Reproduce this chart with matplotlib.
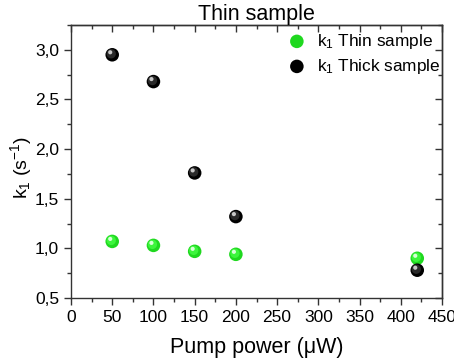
import matplotlib
matplotlib.use("Agg")
import matplotlib.pyplot as plt
from matplotlib.ticker import MultipleLocator, FuncFormatter
from matplotlib.transforms import offset_copy

plt.rcParams['font.family'] = ['Liberation Sans', 'DejaVu Sans']
plt.rcParams['mathtext.fontset'] = 'custom'
plt.rcParams['mathtext.rm'] = 'Liberation Sans'
plt.rcParams['mathtext.it'] = 'Liberation Sans:italic'

power = [50, 100, 150, 200, 420]
k1_thin = [1.07, 1.03, 0.97, 0.94, 0.90]
k1_thick = [2.95, 2.68, 1.76, 1.32, 0.78]

fig = plt.figure(figsize=(4.54, 3.62), dpi=100)
ax = fig.add_axes([71/454, 1-298/362, (442-71)/454, (298-25)/362])

def sphere(x, y, base, mid, hi, label):
    ax.scatter(x, y, s=95, color=base, edgecolors='none', zorder=3, label=label)
    t1 = offset_copy(ax.transData, fig=fig, x=-1.0, y=1.0, units='dots')
    ax.scatter(x, y, s=45, color=mid, edgecolors='none', zorder=4, transform=t1)
    t2 = offset_copy(ax.transData, fig=fig, x=-2.0, y=2.5, units='dots')
    ax.scatter(x, y, s=9, color=hi, edgecolors='none', zorder=5, transform=t2)

sphere(power, k1_thin, '#1fd81f', '#3cf53c', '#d8ffd8', r'k$_1$ Thin sample')
sphere(power, k1_thick, '#000000', '#2a2a2a', '#c8c8c8', r'k$_1$ Thick sample')

ax.set_xlim(0, 450)
ax.set_ylim(0.5, 3.25)
ax.xaxis.set_major_locator(MultipleLocator(50))
ax.xaxis.set_minor_locator(MultipleLocator(25))
ax.yaxis.set_major_locator(MultipleLocator(0.5))
ax.yaxis.set_minor_locator(MultipleLocator(0.25))
ax.yaxis.set_major_formatter(FuncFormatter(lambda v, p: f"{v:.1f}".replace('.', ',')))
ax.tick_params(which='both', direction='out', labelsize=12.5, width=1, color='#333333')
ax.tick_params(which='major', length=5)
ax.tick_params(which='minor', length=3)

# mirrored ticks pointing inward on top and right
axt = ax.secondary_xaxis('top')
axt.xaxis.set_major_locator(MultipleLocator(50))
axt.xaxis.set_minor_locator(MultipleLocator(25))
axt.tick_params(which='both', direction='in', labeltop=False, width=1, color='#333333')
axt.tick_params(which='major', length=5)
axt.tick_params(which='minor', length=3)
axr = ax.secondary_yaxis('right')
axr.yaxis.set_major_locator(MultipleLocator(0.5))
axr.yaxis.set_minor_locator(MultipleLocator(0.25))
axr.tick_params(which='both', direction='in', labelright=False, width=1, color='#333333')
axr.tick_params(which='major', length=5)
axr.tick_params(which='minor', length=3)
for a in (ax, axt, axr):
    for s in a.spines.values():
        s.set_linewidth(1)
        s.set_color('#333333')

ax.set_xlabel('Pump power (μW)', fontsize=15.5, labelpad=9)
ax.set_ylabel(r'k$_1$ (s$^{-1}$)', fontsize=14)
ax.yaxis.set_label_coords(-0.1, 0.48)
ax.set_title('Thin sample', fontsize=15.5, pad=1)

ax.legend(loc='upper right', frameon=False, fontsize=12.4, handletextpad=0.55,
          handlelength=1.2, borderaxespad=0.0, labelspacing=0.35, scatterpoints=1,
          bbox_to_anchor=(1.014, 1.0))

fig.savefig('out.png', dpi=100)
